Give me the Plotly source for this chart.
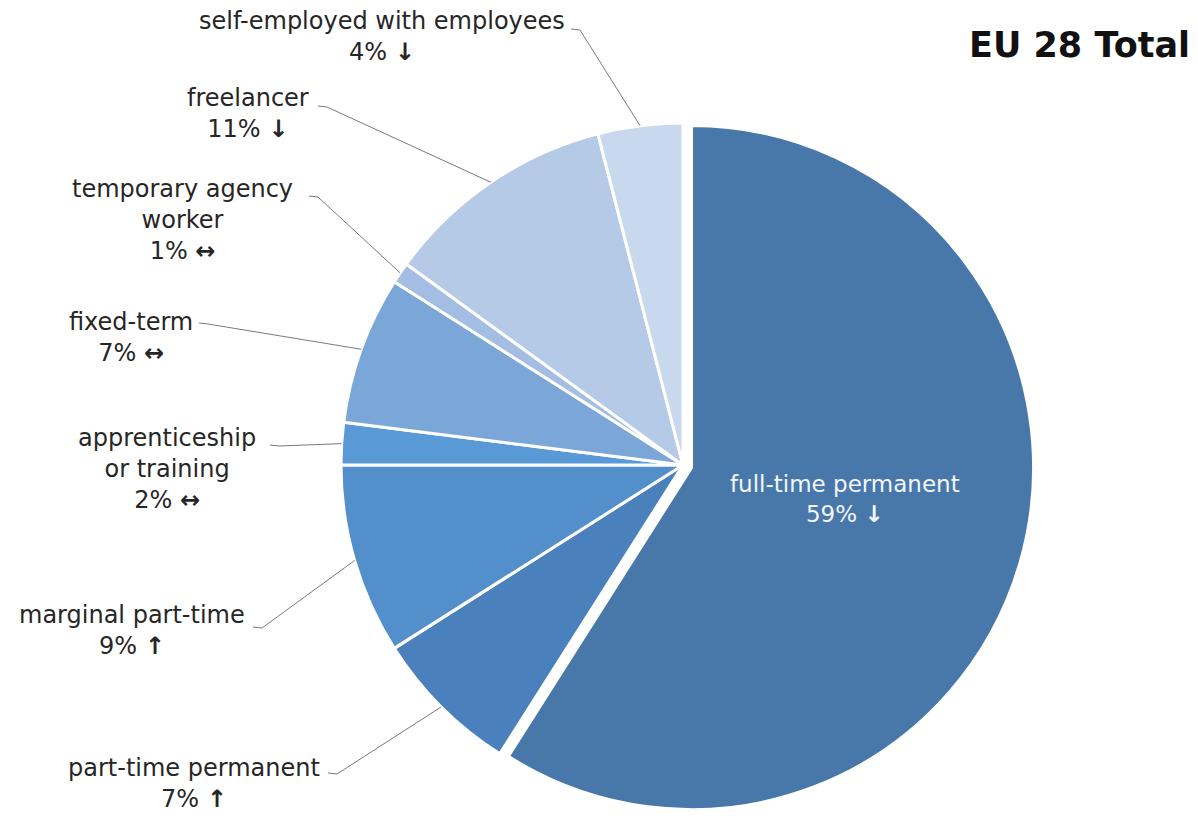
import math
import plotly.graph_objects as go

# Employment status shares, EU 28 total (clockwise from 12 o'clock)
categories = [
    "full-time permanent",
    "part-time permanent",
    "marginal part-time",
    "apprenticeship or training",
    "fixed-term",
    "temporary agency worker",
    "freelancer",
    "self-employed with employees",
]
shares = [59, 7, 9, 2, 7, 1, 11, 4]
trends = ["↓", "↑", "↑", "↔", "↔", "↔", "↓", "↓"]

# Label text as drawn (line breaks inside long names)
label_names = [
    "full-time permanent",
    "part-time permanent",
    "marginal part-time",
    "apprenticeship<br>or training",
    "fixed-term",
    "temporary agency<br>worker",
    "freelancer",
    "self-employed with employees",
]

colors = ["#4878AA", "#4A80BC", "#5390CB", "#5899D6",
          "#7BA7D8", "#A3BEE2", "#B4CAE7", "#C8D9EE"]

# ---- layout geometry (pixels) ----
W, H = 1198, 816
CX, R, PULL = 683, 342, 0.026
side = 2 * R * (1 + PULL)
dom_x = [(CX - side / 2) / W, (CX + side / 2) / W]
dom_y = [0, side / H]
CY = H - side / 2  # pie centre, pixels from top

# label block centres and leader-line start points (pixels from top-left)
label_centres = [(845, 499), (194, 783), (132, 630), (167, 469),
                 (131, 337), (182, 220), (248, 114), (382, 37)]
leader_starts = [None, (328, 773), (253, 627), (270, 445),
                 (199, 323), (309, 196), (318, 106), (571, 29)]


def px(x, y):
    return x / W, 1 - y / H


fig = go.Figure(go.Pie(
    labels=categories,
    values=shares,
    sort=False,
    direction="clockwise",
    rotation=0,
    pull=[PULL] + [0] * (len(shares) - 1),
    marker=dict(colors=colors, line=dict(color="white", width=3)),
    textinfo="none",
    hoverinfo="label+percent",
    showlegend=False,
    domain=dict(x=dom_x, y=dom_y),
))

annotations = []
shapes = []
total = sum(shares)
cum = 0
for i, (name, v, tr) in enumerate(zip(label_names, shares, trends)):
    theta = 2 * math.pi * (cum + v / 2) / total
    cum += v
    lx, ly = label_centres[i]
    ax, ay = px(lx, ly)
    inside = i == 0
    annotations.append(dict(
        x=ax, y=ay, xref="paper", yref="paper",
        xanchor="center", yanchor="middle", showarrow=False,
        text=f"{name}<br>{v}% <b>{tr}</b>",
        align="center",
        font=dict(family="DejaVu Sans", size=23 if inside else 24,
                  color="#F2F6FB" if inside else "#262626"),
    ))
    if leader_starts[i] is not None:
        sx, sy = leader_starts[i]
        ex = CX + R * math.sin(theta)
        ey = CY - R * math.cos(theta)
        p0 = px(sx, sy)
        p1 = px(sx + 9, sy + 1)
        p2 = px(ex, ey)
        shapes.append(dict(
            type="path", xref="paper", yref="paper",
            path=f"M {p0[0]},{p0[1]} L {p1[0]},{p1[1]} L {p2[0]},{p2[1]}",
            line=dict(color="#7A7A7A", width=1),
        ))

tx, ty = px(1192, 45)
annotations.append(dict(
    x=tx, y=ty, xref="paper", yref="paper",
    xanchor="right", yanchor="middle", showarrow=False,
    text="<b>EU 28 Total</b>",
    font=dict(family="DejaVu Sans", size=35, color="#111111"),
))

fig.update_layout(
    width=W, height=H,
    margin=dict(l=0, r=0, t=0, b=0),
    paper_bgcolor="white",
    plot_bgcolor="white",
    annotations=annotations,
    shapes=shapes,
)

fig.write_html("out.html")
